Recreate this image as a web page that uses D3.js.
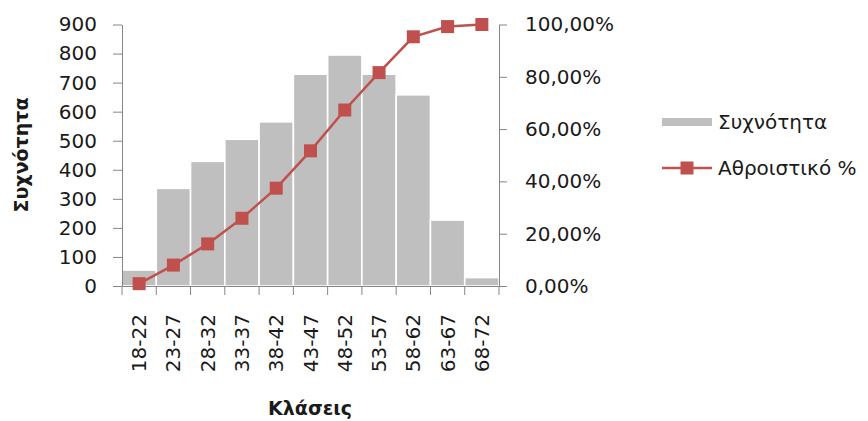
<!DOCTYPE html>
<html>
<head>
<meta charset="utf-8">
<script src="https://cdn.jsdelivr.net/npm/d3@7"></script>
<style>
  html, body { margin: 0; padding: 0; background: #fff; }
  svg { display: block; }
  text { font-family: "DejaVu Sans", sans-serif; fill: #1a1a1a; }
</style>
</head>
<body>
<svg id="chart" width="868" height="421"></svg>
<script>
const categories = ["18-22","23-27","28-32","33-37","38-42","43-47","48-52","53-57","58-62","63-67","68-72"];
const frequency = [55, 336, 429, 505, 565, 729, 795, 729, 658, 227, 29];
const cumulative = [0.009, 0.080, 0.161, 0.259, 0.374, 0.517, 0.673, 0.816, 0.953, 0.992, 1.0];
const leftTicks = [0, 100, 200, 300, 400, 500, 600, 700, 800, 900];
const rightTicks = [0, 0.2, 0.4, 0.6, 0.8, 1.0];
const rightTickLabels = ["0,00%", "20,00%", "40,00%", "60,00%", "80,00%", "100,00%"];
const yTitle = "Συχνότητα";
const xTitle = "Κλάσεις";
const legendLabels = ["Συχνότητα", "Αθροιστικό %"];

const svg = d3.select("#chart");
const L = 122, R = 499, T = 24.5, B = 286;
const barColor = "#BFBFBF", lineColor = "#C0504D", axisColor = "#868686";

const x = d3.scaleBand().domain(categories).range([L, R]).padding(0);
const yL = d3.scaleLinear().domain([0, 900]).range([B, T]);
const yR = d3.scaleLinear().domain([0, 1]).range([B, T]);

// bars
svg.append("g").selectAll("rect").data(categories).join("rect")
  .attr("x", d => x(d))
  .attr("width", x.bandwidth())
  .attr("y", (d, i) => yL(frequency[i]))
  .attr("height", (d, i) => B - yL(frequency[i]))
  .attr("fill", barColor)
  .attr("stroke", "#fff")
  .attr("stroke-width", 1.6);

// left axis
const gL = svg.append("g").attr("transform", `translate(${L},0)`)
  .call(d3.axisLeft(yL).tickValues(leftTicks).tickSize(9).tickPadding(16).tickSizeOuter(0));
// right axis
const gR = svg.append("g").attr("transform", `translate(${R},0)`)
  .call(d3.axisRight(yR).tickValues(rightTicks).tickSize(8).tickPadding(18).tickSizeOuter(0)
    .tickFormat((d, i) => rightTickLabels[i]));
// bottom axis
const gB = svg.append("g").attr("transform", `translate(0,${B})`)
  .call(d3.axisBottom(x).tickSize(0).tickSizeOuter(0).tickFormat(""));
// boundary ticks on x axis
const bounds = categories.map(c => x(c)).concat([R]);
gB.selectAll("line.bt").data(bounds).join("line").attr("class", "bt")
  .attr("x1", d => d).attr("x2", d => d).attr("y1", 0).attr("y2", 9)
  .attr("stroke", axisColor);
// rotated labels
gB.selectAll("text.xl").data(categories).join("text").attr("class", "xl")
  .attr("transform", d => `translate(${x(d) + x.bandwidth() / 2 + 7},28) rotate(-90)`)
  .attr("text-anchor", "end")
  .style("font-size", "20px")
  .text(d => d);

[gL, gR, gB].forEach(g => {
  g.select(".domain").attr("stroke", axisColor);
  g.selectAll(".tick line").attr("stroke", axisColor);
  g.selectAll(".tick text").style("font-size", "20px").style("font-family", "DejaVu Sans, sans-serif").attr("fill", "#1a1a1a");
});

// line
const line = d3.line().x((d, i) => x(categories[i]) + x.bandwidth() / 2).y(d => yR(d));
svg.append("path").datum(cumulative).attr("d", line)
  .attr("fill", "none").attr("stroke", lineColor).attr("stroke-width", 2.5);
svg.append("g").selectAll("rect").data(cumulative).join("rect")
  .attr("x", (d, i) => x(categories[i]) + x.bandwidth() / 2 - 6.5)
  .attr("y", d => yR(d) - 6.5)
  .attr("width", 13).attr("height", 13)
  .attr("fill", lineColor);

// titles
svg.append("text")
  .attr("transform", `translate(28,155) rotate(-90)`)
  .attr("text-anchor", "middle")
  .style("font-size", "19px").style("font-weight", "bold")
  .text(yTitle);
svg.append("text")
  .attr("x", 310).attr("y", 415)
  .attr("text-anchor", "middle")
  .style("font-size", "19px").style("font-weight", "bold")
  .text(xTitle);

// legend
const lg = svg.append("g");
lg.append("rect").attr("x", 662).attr("y", 118).attr("width", 50).attr("height", 8).attr("fill", barColor);
lg.append("text").attr("x", 718).attr("y", 122).attr("dy", "0.35em").style("font-size", "20px").text(legendLabels[0]);
lg.append("line").attr("x1", 662).attr("x2", 712).attr("y1", 168).attr("y2", 168)
  .attr("stroke", lineColor).attr("stroke-width", 2.5);
lg.append("rect").attr("x", 680.5).attr("y", 161.5).attr("width", 13).attr("height", 13).attr("fill", lineColor);
lg.append("text").attr("x", 718).attr("y", 168).attr("dy", "0.35em").style("font-size", "20px").text(legendLabels[1]);
</script>
</body>
</html>
